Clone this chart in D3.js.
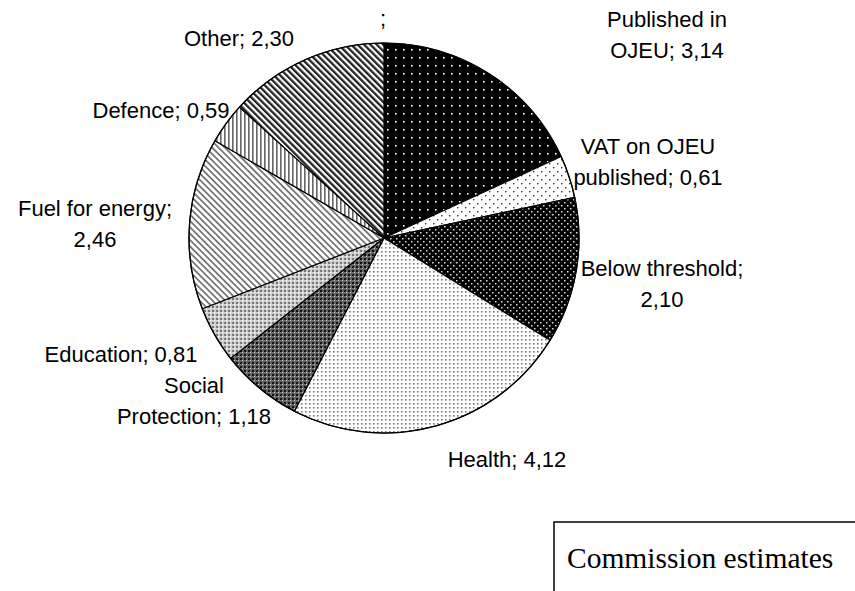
<!DOCTYPE html>
<html><head><meta charset="utf-8">
<script src="https://cdn.jsdelivr.net/npm/d3@7"></script>
<style>html,body{margin:0;padding:0;background:#fff;}svg{display:block;}</style>
</head><body>
<script>
// ---- data ----
const categories = ["", "Published in OJEU", "VAT on OJEU published", "Below threshold", "Health", "Social Protection", "Education", "Fuel for energy", "Defence", "Other"];
const values = [0, 3.14, 0.61, 2.10, 4.12, 1.18, 0.81, 2.46, 0.59, 2.30];
const valueLabels = ["", "3,14", "0,61", "2,10", "4,12", "1,18", "0,81", "2,46", "0,59", "2,30"];
const labelLines = [[";"], ["Published in", "OJEU; 3,14"], ["VAT on OJEU", "published; 0,61"], ["Below threshold;", "2,10"], ["Health; 4,12"], ["Social", "Protection; 1,18"], ["Education; 0,81"], ["Fuel for energy;", "2,46"], ["Defence; 0,59"], ["Other; 2,30"]];
const sourceNote = "Commission estimates";

// ---- layout (label centers in px) ----
const W = 855, H = 591;
const cx = 384, cy = 238, R = 195;
const labelXY = [[383, 18], [667, 35], [648, 162], [662, 284], [507, 459], [194, 401], [121, 354], [95, 224], [161, 110], [239, 38]];
const lineH = 31;

const svg = d3.select("body").append("svg").attr("width", W).attr("height", H);
const defs = svg.append("defs");

function pat(id, size, bg, draw, transform) {
  const p = defs.append("pattern").attr("id", id).attr("patternUnits", "userSpaceOnUse")
    .attr("width", size).attr("height", size);
  if (transform) p.attr("patternTransform", transform);
  p.append("rect").attr("width", size).attr("height", size).attr("fill", bg);
  draw(p);
}
const sq = (p, x, y, s, c) => p.append("rect").attr("x", x).attr("y", y).attr("width", s).attr("height", s).attr("fill", c);
const vline = (p, x, w, size, c) => p.append("rect").attr("x", x).attr("y", 0).attr("width", w).attr("height", size).attr("fill", c);

pat("p0", 4, "#fff", p => {});
pat("p1", 8, "#000", p => { sq(p, 3, 3, 1.6, "#fff"); });
pat("p2", 8, "#fff", p => { sq(p, 1, 1, 1.4, "#333"); sq(p, 5, 5, 1.4, "#333"); });
pat("p3", 6, "#000", p => { sq(p, 0, 0, 1.5, "#ddd"); sq(p, 3, 3, 1.5, "#ddd"); });
pat("p4", 4, "#fff", p => { sq(p, 1, 1, 1.6, "#777"); });
pat("p5", 4, "#666", p => { sq(p, 0, 0, 2, "#111"); sq(p, 2, 2, 1, "#ccc"); });
pat("p6", 4, "#ccc", p => { sq(p, 0, 0, 2, "#777"); sq(p, 2, 2, 1.2, "#fff"); });
pat("p7", 4.5, "#fff", p => { vline(p, 0, 1.8, 4.5, "#777"); }, "rotate(-45)");
pat("p8", 4, "#fff", p => { vline(p, 0, 1.6, 4, "#666"); });
pat("p9", 4.5, "#fff", p => { vline(p, 0, 2.3, 4.5, "#222"); }, "rotate(-45)");

const pie = d3.pie().sort(null).value(d => d)(values);
const arc = d3.arc().innerRadius(0).outerRadius(R);

const g = svg.append("g").attr("transform", `translate(${cx},${cy})`);
g.selectAll("path.slice").data(pie).join("path")
  .attr("class", "slice")
  .attr("d", arc)
  .attr("fill", (d, i) => `url(#p${i})`)
  .attr("stroke", "#000").attr("stroke-width", 1.2).attr("stroke-linejoin", "round");
g.append("circle").attr("r", R).attr("fill", "none").attr("stroke", "#000").attr("stroke-width", 1.2);

// labels
const lg = svg.append("g").attr("font-family", "Liberation Sans, Arial, sans-serif").attr("font-size", 22).attr("fill", "#000");
labelLines.forEach((lines, i) => {
  const [x, y] = labelXY[i];
  const t = lg.append("text").attr("text-anchor", "middle");
  lines.forEach((s, j) => {
    t.append("tspan").attr("x", x).attr("y", y + (j - (lines.length - 1) / 2) * lineH).attr("dy", "0.35em").text(s);
  });
});

// source box
const bx = 554, by = 522;
svg.append("path").attr("d", `M${bx},${H} V${by} H${W}`).attr("fill", "none").attr("stroke", "#000").attr("stroke-width", 1.5);
svg.append("text").attr("x", 567).attr("y", 568).attr("font-family", "Liberation Serif, Times New Roman, serif")
  .attr("font-size", 29.5).attr("fill", "#000").text(sourceNote);
</script>
</body></html>
